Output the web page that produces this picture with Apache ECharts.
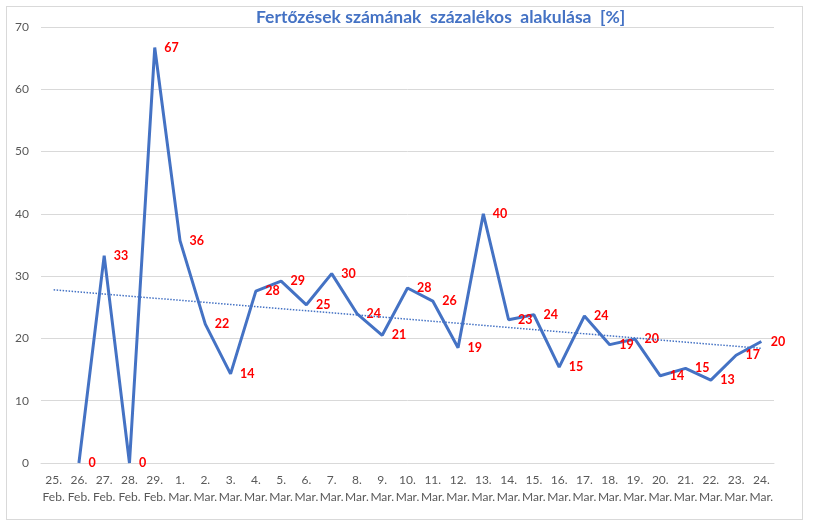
<!DOCTYPE html>
<html>
<head>
<meta charset="utf-8">
<script src="https://cdn.jsdelivr.net/npm/echarts@6/dist/echarts.min.js"></script>
<style>
  html, body { margin: 0; padding: 0; background: #fff; }
  #frame { position: absolute; left: 6px; top: 6px; width: 795px; height: 512px; border: 1px solid #d9d9d9; }
  #chart { position: absolute; left: 0; top: 0; width: 814px; height: 528px; }
</style>
</head>
<body>
<div id="frame"></div>
<div id="chart"></div>
<script>
// dátumok (két soros felirat)
var days = ['25.\nFeb.', '26.\nFeb.', '27.\nFeb.', '28.\nFeb.', '29.\nFeb.',
    '1.\nMar.', '2.\nMar.', '3.\nMar.', '4.\nMar.', '5.\nMar.', '6.\nMar.', '7.\nMar.',
    '8.\nMar.', '9.\nMar.', '10.\nMar.', '11.\nMar.', '12.\nMar.', '13.\nMar.', '14.\nMar.',
    '15.\nMar.', '16.\nMar.', '17.\nMar.', '18.\nMar.', '19.\nMar.', '20.\nMar.', '21.\nMar.',
    '22.\nMar.', '23.\nMar.', '24.\nMar.'];
// százalékos változás, 25. Feb. nincs adat
var percent = [null, 0, 33.3, 0, 66.7, 35.7, 22.3, 14.3, 27.6, 29.2, 25.4, 30.4,
    24.0, 20.5, 28.1, 26.0, 18.5, 40.0, 23.0, 23.8, 15.4, 23.6, 19.0, 19.9,
    14.0, 15.2, 13.3, 17.3, 19.5];
// lineáris trendvonal végpontjai (leolvasva)
var trendStart = 27.8;
var trendEnd = 18.4;
var yTicks = [0, 10, 20, 30, 40, 50, 60, 70];

var chart = echarts.init(document.getElementById('chart'));
chart.setOption({
    animation: false,
    textStyle: { fontFamily: 'Lato' },
    title: {
        text: 'Fertőzések számának  százalékos  alakulása  [%]',
        left: 251,
        top: 3,
        textStyle: { color: '#4472C4', fontSize: 17.5, fontWeight: 'bold', fontFamily: 'Lato' }
    },
    grid: { left: 41, right: 40, top: 27, bottom: 65 },
    xAxis: {
        type: 'category',
        data: days,
        boundaryGap: true,
        axisLine: { lineStyle: { color: '#d9d9d9' } },
        axisTick: { show: false },
        axisLabel: { color: '#595959', fontSize: 12, lineHeight: 17, margin: 9, interval: 0 }
    },
    yAxis: {
        type: 'value',
        min: yTicks[0],
        max: yTicks[yTicks.length - 1],
        interval: 10,
        axisLine: { show: false },
        axisTick: { show: false },
        splitLine: { lineStyle: { color: '#d9d9d9' } },
        axisLabel: { color: '#595959', fontSize: 12, margin: 12 }
    },
    series: [{
        name: 'százalék',
        type: 'line',
        data: percent,
        symbol: 'circle',
        symbolSize: 1,
        showSymbol: true,
        showAllSymbol: true,
        itemStyle: { color: 'rgba(68,114,196,0)', borderWidth: 0 },
        lineStyle: { color: '#4472C4', width: 3 },
        label: {
            show: true,
            position: 'right',
            distance: 9,
            color: '#ff0000',
            fontWeight: 'bold',
            fontSize: 12.5,
            formatter: function (p) { return Math.round(p.value); }
        },
        labelLayout: { hideOverlap: false },
        markLine: {
            silent: true,
            symbol: 'none',
            label: { show: false },
            lineStyle: { color: '#4472C4', type: 'dotted', width: 1.5 },
            data: [[{ coord: [0, trendStart] }, { coord: [days.length - 1, trendEnd] }]]
        }
    }]
});
</script>
</body>
</html>
